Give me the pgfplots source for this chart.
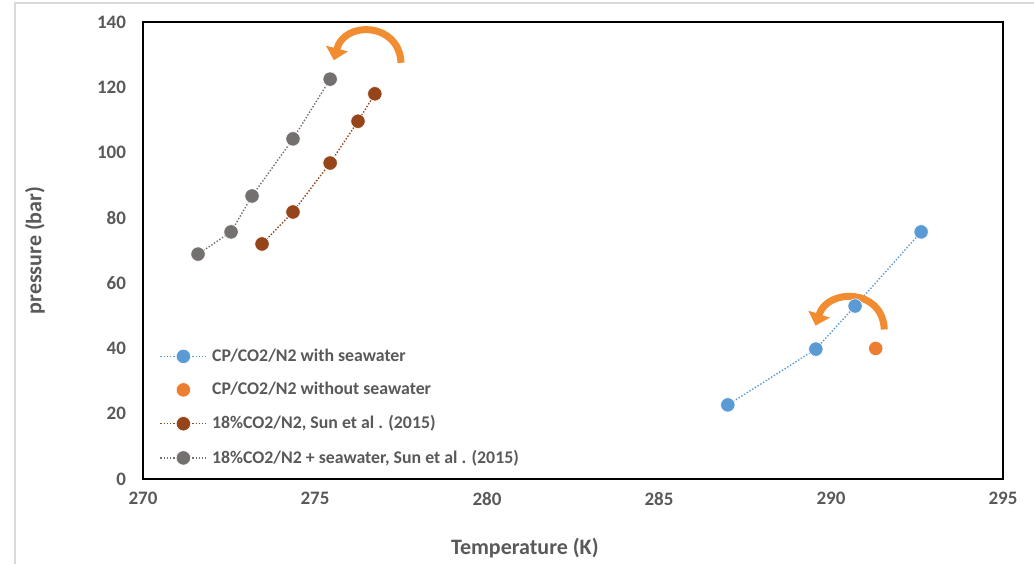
\documentclass[border=0pt]{standalone}
\usepackage{pgfplots}
\pgfplotsset{compat=1.18}
\usepackage{fontspec}
\setmainfont{Carlito}
\usetikzlibrary{arrows.meta}
\definecolor{cblue}{RGB}{91,155,213}
\definecolor{corange}{RGB}{237,125,49}
\definecolor{cbrown}{RGB}{150,68,26}
\definecolor{cgray}{RGB}{117,112,112}
\definecolor{ctext}{RGB}{89,89,89}
\definecolor{carrow}{RGB}{242,140,48}
\begin{document}
\begin{tikzpicture}
\path[use as bounding box] (-71.5pt,-42.5pt) rectangle (445.5pt,239.5pt);
\draw[black!15,line width=1pt] (-64pt,-42.5pt) -- (-64pt,238pt) -- (445.5pt,238pt);
\begin{axis}[
  at={(0,0)}, anchor=south west,
  scale only axis, width=430pt, height=228.5pt,
  xmin=270, xmax=295, ymin=0, ymax=140,
  xtick={270,275,...,295}, ytick={0,20,...,140},
  major tick length=0pt,
  axis line style={black, line width=1pt},
  tick label style={font=\fontsize{9.5}{11}\selectfont\bfseries, text=ctext},
  yticklabel style={xshift=-5pt},
  xticklabel style={yshift=-3pt},
  /pgf/number format/assume math mode=true,
  xlabel={Temperature (K)}, ylabel={pressure (bar)},
  label style={font=\fontsize{11}{13}\selectfont\bfseries, text=ctext},
  xlabel style={at={(axis description cs:0.444,-0.151)}, anchor=center},
  ylabel style={at={(axis description cs:-0.1256,0.5)}, anchor=center},
  legend cell align=left,
  legend style={at={(axis description cs:0.012,0.01)}, anchor=south west, draw=none, fill=none,
    font=\fontsize{8.9}{10}\selectfont\bfseries, text=ctext, row sep=5pt,
    /tikz/every odd column/.append style={column sep=0.5pt}},
  legend image code/.code={\draw[mark repeat=2,mark phase=2,#1] plot coordinates {(0pt,0pt) (11.5pt,0pt) (23pt,0pt)};},
  every axis plot/.append style={mark=*, mark size=3.6pt, line width=0.7pt, dash pattern=on 0.7pt off 0.9pt},
]
\addplot[cblue, mark options={solid, fill=cblue, draw=white, line width=0.3pt}] coordinates {
(287.0,22.7) (289.56,39.8) (290.7,53.0) (292.62,75.7)};
\addlegendentry{CP/CO2/N2 with seawater}
\addplot[corange, only marks, mark options={solid, fill=corange, draw=white, line width=0.3pt}] coordinates {
(291.3,40.0)};
\addlegendentry{CP/CO2/N2 without seawater}
\addplot[cbrown, mark options={solid, fill=cbrown, draw=white, line width=0.3pt}] coordinates {
(273.46,72.0) (274.36,81.8) (275.44,96.8) (276.25,109.6) (276.74,118.0)};
\addlegendentry{18\%CO2/N2, Sun et al . (2015)}
\addplot[cgray, mark options={solid, fill=cgray, draw=white, line width=0.3pt}] coordinates {
(271.6,68.9) (272.56,75.7) (273.17,86.7) (274.36,104.2) (275.44,122.5)};
\addlegendentry{18\%CO2/N2 + seawater, Sun et al . (2015)}
\draw[carrow, line width=3.5pt, -{Triangle[width=11pt,length=6pt]}]
  (axis cs:277.5,127.5) .. controls (axis cs:277.45,140) and (axis cs:275.85,140.5) .. (axis cs:275.55,128.3);
\draw[carrow, line width=3.5pt, -{Triangle[width=11pt,length=6pt]}]
  (axis cs:291.55,45.8) .. controls (axis cs:291.5,58.5) and (axis cs:289.9,58.5) .. (axis cs:289.55,47.0);
\end{axis}
\end{tikzpicture}
\end{document}
